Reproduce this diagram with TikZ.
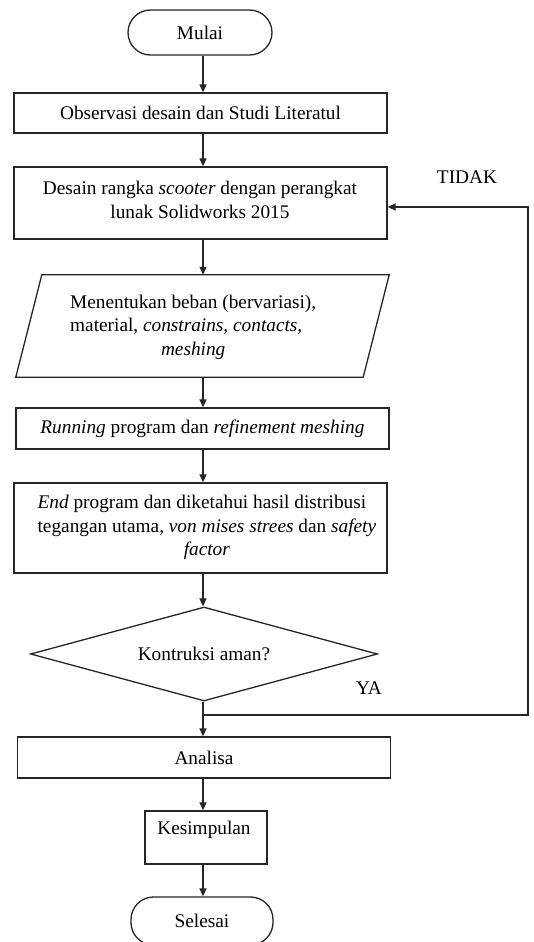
\documentclass[tikz,border=0pt]{standalone}
\usepackage{fontspec}
\setmainfont{Liberation Serif}
\usetikzlibrary{arrows.meta,shapes.geometric}
\begin{document}
\begin{tikzpicture}[x=1pt,y=-1pt,
  every node/.style={font=\fontsize{19.3}{23.5}\selectfont, inner sep=0pt},
  ln/.style={line width=1.3pt, draw=black!85},
  box/.style={ln, draw, minimum width=373pt},
  term/.style={ln, draw, rounded corners=22.5pt},
  arr/.style={ln, -{Triangle[length=8pt,width=7pt]}}]
\useasboundingbox (0,0) rectangle (534,942);
\coordinate (ax) at (203,0);
% nodes
\node[term, minimum width=144pt, minimum height=45pt] (mulai) at (200,32.5) {Mulai};
\node[box, minimum height=40pt] (obs) at (200.5,113) {Observasi desain dan Studi Literatul};
\node[box, minimum height=72pt] (des) at (200.5,203) {};
\node[align=center] (destext) at (200,200) {Desain rangka \textit{scooter} dengan perangkat\\lunak Solidworks 2015};
\node[minimum width=373pt, minimum height=102pt] (inp) at (202.5,326) {};
\draw[ln] ([xshift=26pt]inp.north west) -- (inp.north east) -- ([xshift=-26pt]inp.south east) -- (inp.south west) -- cycle;
\node[anchor=west] (inptext) at (70,327) {\begin{tabular}{@{}l@{}}Menentukan beban (bervariasi),\\ material, \textit{constrains, contacts,}\\ \multicolumn{1}{@{}c@{}}{\textit{meshing}}\end{tabular}};
\node[box, minimum height=41pt] (run) at (202.5,428.5) {\textit{Running} program dan \textit{refinement meshing}};
\node[box, minimum height=90pt] (end) at (200.5,528) {};
\node[anchor=west] (endtext) at (37.4,527.5) {\begin{tabular}{@{}l@{}}\textit{End} program dan diketahui hasil distribusi\\ tegangan utama, \textit{von mises strees} dan \textit{safety}\\ \multicolumn{1}{@{}c@{}}{\textit{factor}}\end{tabular}};
\node[diamond, ln, draw, aspect=3.7, minimum width=347pt, minimum height=94pt] (dec) at (204,654) {Kontruksi aman?};
\node[box, minimum height=41pt] (ana) at (204,757.5) {Analisa};
\node[ln, draw, minimum width=122pt, minimum height=53pt] (kes) at (206,837.5) {};
\node (kestext) at (204,830) {Kesimpulan};
\node[term, minimum width=142pt, minimum height=48pt] (sel) at (202,921) {Selesai};
\node (tidak) at (467,177) {TIDAK};
\node (ya) at (369,688) {YA};
% connectors
\draw[arr] (ax |- mulai.south) -- (ax |- obs.north);
\draw[arr] (ax |- obs.south) -- (ax |- des.north);
\draw[arr] (ax |- des.south) -- (ax |- inp.north);
\draw[arr] (ax |- inp.south) -- (ax |- run.north);
\draw[arr] (ax |- run.south) -- (ax |- end.north);
\draw[arr] (ax |- end.south) -- (ax |- dec.north);
\draw[arr] (ax |- dec.south) -- (ax |- ana.north);
\coordinate (merge) at (203,715);
\coordinate (rt) at (528,207);
\draw[arr] (merge) -| (rt) -- (rt -| des.east);
\draw[arr] (ax |- ana.south) -- (ax |- kes.north);
\draw[arr] (ax |- kes.south) -- (ax |- sel.north);
\end{tikzpicture}
\end{document}
